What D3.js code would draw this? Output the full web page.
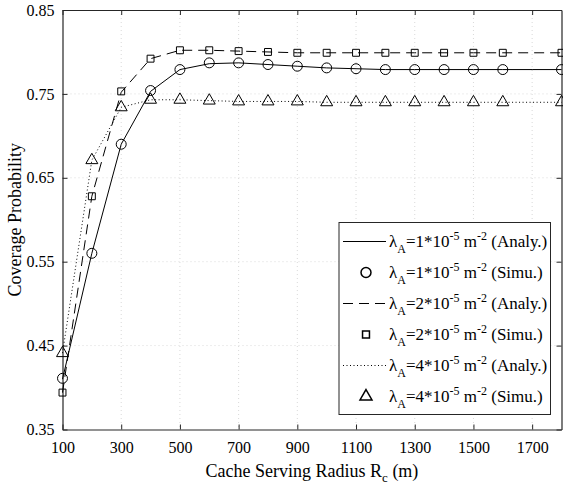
<!DOCTYPE html>
<html>
<head>
<meta charset="utf-8">
<script src="https://cdn.jsdelivr.net/npm/d3@7"></script>
<style>
  @font-face {
    font-family: "ChartSerif";
    src: local("Liberation Serif"), local("LiberationSerif"), local("LiberationSerif-Regular"), local("Tinos"), local("Times New Roman");
  }
</style>
</head>
<body style="margin:0">
<div id="vis"></div>
<script>
const FRAME_WIDTH = 563;
const FRAME_HEIGHT = 485;
const MARGINS = {left: 62.5, right: 1.5, top: 10, bottom: 55.5};

// data
const radiusAnaly = [100, 200, 300, 400, 500, 600, 700, 800, 900, 1000, 1100, 1200, 1300, 1400, 1500, 1600, 1700, 1800];
const radiusSimu = [100, 200, 300, 400, 500, 600, 700, 800, 900, 1000, 1100, 1200, 1300, 1400, 1500, 1600, 1800];

const analy1 = [0.410, 0.560, 0.690, 0.753, 0.779, 0.786, 0.787, 0.785, 0.783, 0.781, 0.780, 0.779, 0.779, 0.779, 0.779, 0.779, 0.779, 0.779];
const simu1 = [0.411, 0.560, 0.690, 0.754, 0.779, 0.787, 0.787, 0.785, 0.783, 0.781, 0.780, 0.779, 0.779, 0.779, 0.779, 0.779, 0.779];
const analy2 = [0.394, 0.628, 0.752, 0.792, 0.802, 0.802, 0.801, 0.800, 0.799, 0.799, 0.799, 0.799, 0.799, 0.799, 0.799, 0.799, 0.799, 0.799];
const simu2 = [0.394, 0.628, 0.753, 0.792, 0.802, 0.802, 0.801, 0.800, 0.799, 0.799, 0.799, 0.799, 0.799, 0.799, 0.799, 0.799, 0.799];
const analy4 = [0.441, 0.671, 0.734, 0.743, 0.743, 0.742, 0.741, 0.741, 0.741, 0.740, 0.740, 0.740, 0.740, 0.740, 0.740, 0.740, 0.740, 0.740];
const simu4 = [0.441, 0.671, 0.734, 0.743, 0.743, 0.742, 0.741, 0.741, 0.741, 0.740, 0.740, 0.740, 0.740, 0.740, 0.740, 0.740, 0.740];

const xTicks = [100, 300, 500, 700, 900, 1100, 1300, 1500, 1700];
const yTicks = [0.35, 0.45, 0.55, 0.65, 0.75, 0.85];
const densities = ["1", "2", "4"];

const VIS_WIDTH = FRAME_WIDTH - MARGINS.left - MARGINS.right;
const VIS_HEIGHT = FRAME_HEIGHT - MARGINS.top - MARGINS.bottom;
const FONT = "'Liberation Serif', ChartSerif, Tinos, 'Times New Roman', Times";

const FRAME = d3.select("#vis")
  .append("svg")
    .attr("width", FRAME_WIDTH)
    .attr("height", FRAME_HEIGHT);

const X_SCALE = d3.scaleLinear().domain([100, 1800]).range([0, VIS_WIDTH]);
const Y_SCALE = d3.scaleLinear().domain([0.35, 0.85]).range([VIS_HEIGHT, 0]);

const plot = FRAME.append("g")
  .attr("transform", "translate(" + MARGINS.left + "," + MARGINS.top + ")");

// grid
plot.append("g")
  .selectAll("line")
  .data(xTicks.slice(1))
  .enter().append("line")
    .attr("x1", d => X_SCALE(d)).attr("x2", d => X_SCALE(d))
    .attr("y1", 0).attr("y2", VIS_HEIGHT)
    .attr("stroke", "#d9d9d9").attr("stroke-width", 1)
    .attr("stroke-dasharray", "1,3");
plot.append("g")
  .selectAll("line")
  .data(yTicks.slice(1, -1))
  .enter().append("line")
    .attr("x1", 0).attr("x2", VIS_WIDTH)
    .attr("y1", d => Y_SCALE(d)).attr("y2", d => Y_SCALE(d))
    .attr("stroke", "#d9d9d9").attr("stroke-width", 1)
    .attr("stroke-dasharray", "1,3");

// axes (ticks inside, box around)
const axisColor = "#262626";
function styleAxis(g) {
  g.attr("font-family", FONT).attr("font-size", 16);
  g.select(".domain").attr("stroke", axisColor).attr("stroke-width", 1.2);
  g.selectAll(".tick line").attr("stroke", axisColor);
  g.selectAll(".tick text")
    .attr("font-family", FONT)
    .attr("font-size", "16px")
    .attr("fill", "#000");
}
plot.append("g")
  .attr("transform", "translate(0," + VIS_HEIGHT + ")")
  .call(d3.axisBottom(X_SCALE).tickValues(xTicks).tickFormat(d3.format("d")).tickSizeInner(-5).tickSizeOuter(0).tickPadding(12))
  .call(styleAxis);
plot.append("g")
  .call(d3.axisLeft(Y_SCALE).tickValues(yTicks).tickFormat(d3.format(".2f")).tickSizeInner(-5).tickSizeOuter(0).tickPadding(8))
  .call(styleAxis);
plot.append("g")
  .call(d3.axisTop(X_SCALE).tickValues(xTicks).tickSizeInner(-5).tickSizeOuter(0).tickFormat(""))
  .call(styleAxis);
plot.append("g")
  .attr("transform", "translate(" + VIS_WIDTH + ",0)")
  .call(d3.axisRight(Y_SCALE).tickValues(yTicks).tickSizeInner(-5).tickSizeOuter(0).tickFormat(""))
  .call(styleAxis);

// series
const series = [
  {analy: analy1, simu: simu1, dash: null, symbol: d3.symbolCircle, size: 78},
  {analy: analy2, simu: simu2, dash: "10,6", symbol: d3.symbolSquare, size: 48},
  {analy: analy4, simu: simu4, dash: "1,2.5", symbol: d3.symbolTriangle, size: 62}
];

const line = d3.line()
  .x(d => X_SCALE(d[0]))
  .y(d => Y_SCALE(d[1]));

series.forEach(s => {
  plot.append("path")
    .datum(d3.zip(radiusAnaly, s.analy))
    .attr("d", line)
    .attr("fill", "none")
    .attr("stroke", "#000")
    .attr("stroke-width", 1)
    .attr("stroke-dasharray", s.dash);
  plot.append("g")
    .selectAll("path")
    .data(d3.zip(radiusSimu, s.simu))
    .enter().append("path")
      .attr("transform", d => "translate(" + X_SCALE(d[0]) + "," + Y_SCALE(d[1]) + ")")
      .attr("d", d3.symbol().type(s.symbol).size(s.size))
      .attr("fill", "none")
      .attr("stroke", "#000")
      .attr("stroke-width", 1);
});

// legend
const LEG = {x: 339, y: 222.5, w: 211.5, h: 192};
const legend = FRAME.append("g");
legend.append("rect")
  .attr("x", LEG.x).attr("y", LEG.y)
  .attr("width", LEG.w).attr("height", LEG.h)
  .attr("fill", "#fff").attr("stroke", axisColor).attr("stroke-width", 1);

const rowH = 31;
const legendRows = [];
series.forEach((s, i) => {
  legendRows.push({kind: "line", s: s, dens: densities[i], tag: "(Analy.)"});
  legendRows.push({kind: "mark", s: s, dens: densities[i], tag: "(Simu.)"});
});

legendRows.forEach((r, i) => {
  const cy = LEG.y + 19 + i * rowH;
  if (r.kind === "line") {
    legend.append("line")
      .attr("x1", LEG.x + 4).attr("x2", LEG.x + 47)
      .attr("y1", cy).attr("y2", cy)
      .attr("stroke", "#000").attr("stroke-width", 1)
      .attr("stroke-dasharray", r.s.dash);
  } else {
    legend.append("path")
      .attr("transform", "translate(" + (LEG.x + 27) + "," + cy + ")")
      .attr("d", d3.symbol().type(r.s.symbol).size(r.s.size))
      .attr("fill", "none").attr("stroke", "#000").attr("stroke-width", 1.5);
  }
  const t = legend.append("text")
    .attr("x", LEG.x + 50).attr("y", cy + 5)
    .attr("font-family", FONT)
    .attr("font-size", "17px");
  t.append("tspan").text("λ");
  t.append("tspan").attr("dy", 6).attr("font-size", "12px").text("A");
  t.append("tspan").attr("dy", -6).text("=" + r.dens + "*10");
  t.append("tspan").attr("dy", -7).attr("font-size", "12px").text("-5");
  t.append("tspan").attr("dy", 7).text(" m");
  t.append("tspan").attr("dy", -7).attr("font-size", "12px").text("-2");
  t.append("tspan").attr("dy", 7).text(" " + r.tag);
});

// axis titles
const xl = FRAME.append("text")
  .attr("x", MARGINS.left + VIS_WIDTH / 2)
  .attr("y", 477)
  .attr("text-anchor", "middle")
  .attr("font-family", FONT)
  .attr("font-size", "18px");
xl.append("tspan").text("Cache Serving Radius R");
xl.append("tspan").attr("dy", 5).attr("font-size", "13px").text("c");
xl.append("tspan").attr("dy", -5).text(" (m)");

FRAME.append("text")
  .attr("transform", "translate(21," + (MARGINS.top + VIS_HEIGHT / 2) + ") rotate(-90)")
  .attr("text-anchor", "middle")
  .attr("font-family", FONT)
  .attr("font-size", "18px")
  .text("Coverage Probability");
</script>
</body>
</html>
